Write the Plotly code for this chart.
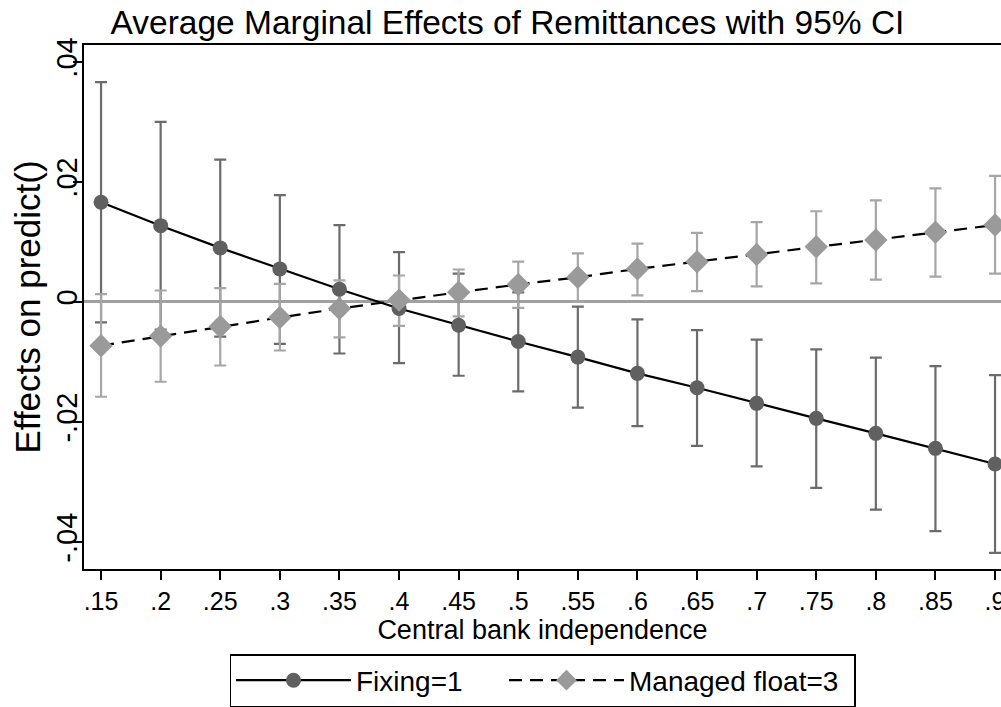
import plotly.graph_objects as go

# Data
cbi = [0.15, 0.20, 0.25, 0.30, 0.35, 0.40, 0.45, 0.50,
       0.55, 0.60, 0.65, 0.70, 0.75, 0.80, 0.85, 0.90]
cbi_labels = [".15", ".2", ".25", ".3", ".35", ".4", ".45", ".5",
              ".55", ".6", ".65", ".7", ".75", ".8", ".85", ".9"]

fixing = [0.0166, 0.0127, 0.0090, 0.0055, 0.0021, -0.0011, -0.0039, -0.0066,
          -0.0092, -0.0119, -0.0143, -0.0169, -0.0194, -0.0219, -0.0244, -0.0270]
fixing_hi = [0.0366, 0.0300, 0.0237, 0.0178, 0.0128, 0.0083, 0.0047, 0.0016,
             -0.0008, -0.0029, -0.0047, -0.0063, -0.0079, -0.0093, -0.0107, -0.0122]
fixing_lo = [-0.0034, -0.0046, -0.0058, -0.0070, -0.0086, -0.0102, -0.0123, -0.0149,
             -0.0176, -0.0207, -0.0240, -0.0274, -0.0310, -0.0346, -0.0382, -0.0418]

managed = [-0.0073, -0.0057, -0.0041, -0.0026, -0.0011, 0.0003, 0.0016, 0.0029,
           0.0041, 0.0055, 0.0067, 0.0079, 0.0092, 0.0103, 0.0116, 0.0128]
managed_hi = [0.0013, 0.0019, 0.0023, 0.0030, 0.0036, 0.0044, 0.0054, 0.0067,
              0.0081, 0.0097, 0.0115, 0.0133, 0.0151, 0.0169, 0.0189, 0.0210]
managed_lo = [-0.0158, -0.0133, -0.0106, -0.0081, -0.0059, -0.0040, -0.0024, -0.0010,
              0.0000, 0.0011, 0.0018, 0.0026, 0.0031, 0.0037, 0.0042, 0.0047]

y_ticks = [0.04, 0.02, 0.0, -0.02, -0.04]
y_tick_labels = [".04", ".02", "0", "-.02", "-.04"]

FONT = "Liberation Sans, Arial, Helvetica, sans-serif"
DARK_CI = "#6b6b6b"
LIGHT_CI = "#a6a6a6"
DARK_MK = "#606060"
LIGHT_MK = "#9a9a9a"

fig = go.Figure()

# Confidence intervals first (drawn beneath lines)
fig.add_trace(go.Scatter(
    x=cbi, y=fixing, mode="markers", marker=dict(size=1, opacity=0),
    error_y=dict(type="data", symmetric=False,
                 array=[h - m for h, m in zip(fixing_hi, fixing)],
                 arrayminus=[m - l for m, l in zip(fixing, fixing_lo)],
                 color=DARK_CI, thickness=2.2, width=6),
    showlegend=False, hoverinfo="skip"))
fig.add_trace(go.Scatter(
    x=cbi, y=managed, mode="markers", marker=dict(size=1, opacity=0),
    error_y=dict(type="data", symmetric=False,
                 array=[h - m for h, m in zip(managed_hi, managed)],
                 arrayminus=[m - l for m, l in zip(managed, managed_lo)],
                 color=LIGHT_CI, thickness=2.2, width=6),
    showlegend=False, hoverinfo="skip"))

fig.add_trace(go.Scatter(
    x=cbi, y=fixing, mode="lines+markers", name="Fixing=1",
    line=dict(color="black", width=2.2),
    marker=dict(symbol="circle", size=15, color=DARK_MK),
    legendwidth=143))
fig.add_trace(go.Scatter(
    x=cbi, y=managed, mode="lines+markers", name="Managed float=3",
    line=dict(color="black", width=2.2, dash="13px,8px"),
    marker=dict(symbol="diamond", size=18, color=LIGHT_MK),
    legendwidth=220))

fig.update_layout(
    width=1001, height=707,
    margin=dict(l=84, r=0, t=45, b=137),
    paper_bgcolor="white", plot_bgcolor="white",
    font=dict(family=FONT, color="black", size=25),
    title=dict(text="Average Marginal Effects of Remittances with 95% CI",
               x=0.507, xref="container", xanchor="center",
               y=0.969, yref="container", yanchor="middle",
               font=dict(size=33.5, family=FONT, color="black")),
    legend=dict(orientation="h", x=0.5, xanchor="center",
                y=-0.162, yanchor="top",
                bordercolor="black", borderwidth=1.5,
                font=dict(size=28, family=FONT, color="black"),
                itemwidth=115,
                tracegroupgap=0, bgcolor="white"),
    showlegend=True,
)

fig.update_xaxes(
    range=[0.1357, 0.905], automargin=False,
    tickmode="array", tickvals=cbi, ticktext=cbi_labels,
    ticks="outside", ticklen=9, tickwidth=1.5, tickcolor="black",
    ticklabeloverflow="allow",
    showline=True, linecolor="black", linewidth=2, mirror=True,
    showgrid=False, zeroline=False,
    tickfont=dict(size=25, family=FONT),
    title=dict(text="Central bank independence", standoff=4,
               font=dict(size=27, family=FONT)),
)
fig.update_yaxes(
    range=[-0.0445, 0.0428], automargin=False,
    tickmode="array", tickvals=y_ticks, ticktext=y_tick_labels,
    tickangle=-90, ticklabelstandoff=-16,
    ticks="outside", ticklen=9, tickwidth=1.5, tickcolor="black",
    showline=True, linecolor="black", linewidth=2, mirror=False,
    showgrid=False,
    zeroline=True, zerolinecolor="#a0a0a0", zerolinewidth=2.5,
    tickfont=dict(size=29, family=FONT),
    title=dict(text="Effects on predict()", standoff=0,
               font=dict(size=35, family=FONT)),
)

fig.write_html("out.html",
               config={"displayModeBar": False},
               post_script="document.body.style.margin='0px';"
                           "document.body.style.overflow='hidden';")
